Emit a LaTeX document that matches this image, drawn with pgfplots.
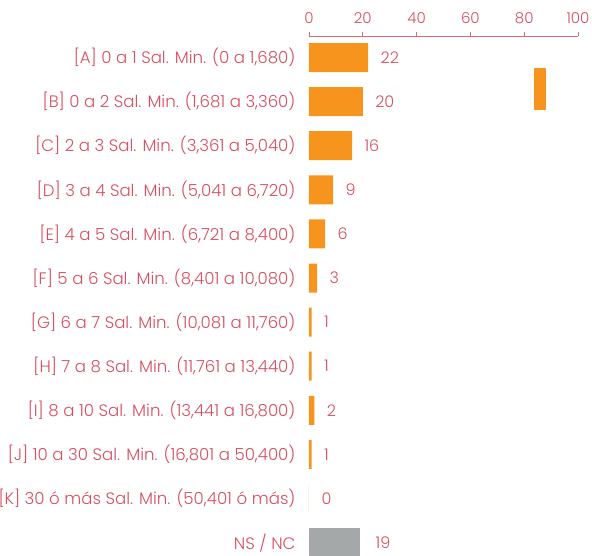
\documentclass[border=0pt]{standalone}
\usepackage{fontspec}
\setmainfont{Poppins Light}
\usepackage{pgfplots}
\pgfplotsset{compat=1.18}
\definecolor{barorange}{HTML}{F7941D}
\definecolor{bargray}{HTML}{A5A8A8}
\definecolor{txt}{HTML}{D64F62}
\definecolor{axln}{HTML}{D9687A}
\begin{document}
\begin{tikzpicture}
\begin{axis}[
  at={(0pt,0pt)}, anchor=south west,
  scale only axis,
  width=269pt, height=518.8pt,
  xmin=0, xmax=100,
  ymin=-0.483, ymax=11.28,
  y dir=reverse,
  axis x line*=top,
  axis y line*=left,
  y axis line style={draw=none},
  x axis line style={axln, line width=0.8pt},
  xtick={0,20,40,60,80,100},
  tick align=outside,
  major tick length=4pt,
  x tick style={axln, line width=0.8pt},
  y tick style={draw=none},
  xticklabel style={txt, font=\fontsize{15}{17}\selectfont, yshift=5pt},
  yticklabel style={txt, font=\fontsize{16.6}{18}\selectfont, xshift=-6pt},
  xticklabel pos=top,
  /pgf/number format/assume math mode=true,
  ytick={0,...,11},
  yticklabels={
    {[A] 0 a 1 Sal. Min. (0 a 1,680)},
    {[B] 0 a 2 Sal. Min. (1,681 a 3,360)},
    {[C] 2 a 3 Sal. Min. (3,361 a 5,040)},
    {[D] 3 a 4 Sal. Min. (5,041 a 6,720)},
    {[E] 4 a 5 Sal. Min. (6,721 a 8,400)},
    {[F] 5 a 6 Sal. Min. (8,401 a 10,080)},
    {[G] 6 a 7 Sal. Min. (10,081 a 11,760)},
    {[H] 7 a 8 Sal. Min. (11,761 a 13,440)},
    {[I] 8 a 10 Sal. Min. (13,441 a 16,800)},
    {[J] 10 a 30 Sal. Min. (16,801 a 50,400)},
    {[K] 30 ó más Sal. Min. (50,401 ó más)},
    {NS / NC}},
  clip=false,
]
\addplot[xbar, bar width=29pt, bar shift=0pt, fill=barorange, draw=none,
  nodes near coords, nodes near coords align={horizontal},
  every node near coord/.append style={txt, font=\fontsize{16}{18}\selectfont, xshift=9pt},
  point meta=x]
  coordinates {(22,0) (20,1) (16,2) (9,3) (6,4) (3,5) (1,6) (1,7) (2,8) (1,9) (0,10)};
\addplot[xbar, bar width=29pt, bar shift=0pt, fill=bargray, draw=none,
  nodes near coords, nodes near coords align={horizontal},
  every node near coord/.append style={txt, font=\fontsize{16}{18}\selectfont, xshift=12pt},
  point meta=x]
  coordinates {(19,11)};
\addplot[fill=barorange, draw=none] coordinates {(83.6,0.23) (88.1,0.23) (88.1,1.18) (83.6,1.18)} --cycle;
\end{axis}
\pgfresetboundingbox
\path[use as bounding box] (-309pt,0pt) rectangle (283pt,555pt);
\end{tikzpicture}
\end{document}
